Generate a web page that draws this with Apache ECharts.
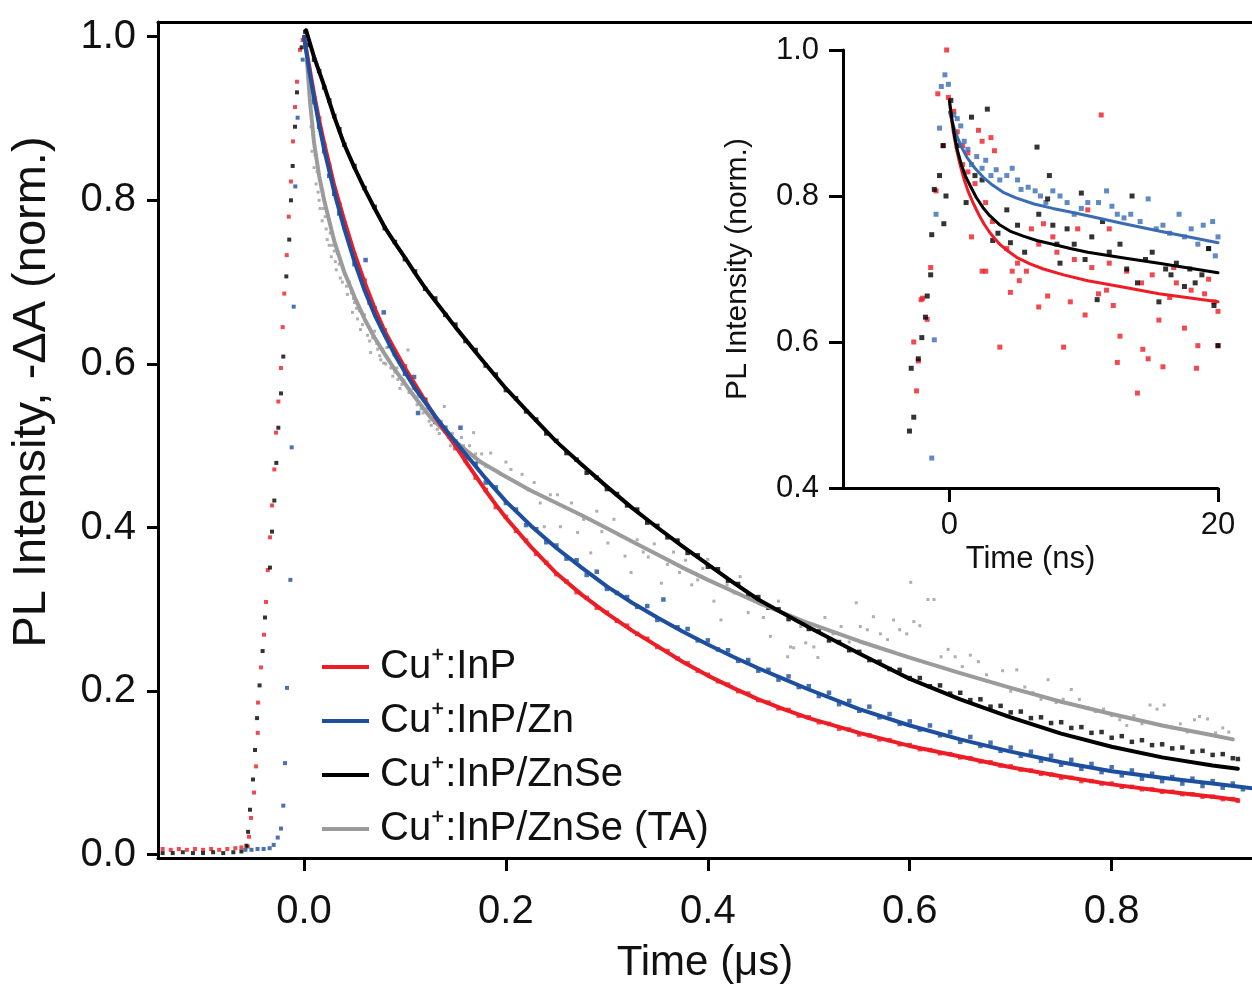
<!DOCTYPE html>
<html>
<head>
<meta charset="utf-8">
<script src="https://cdn.jsdelivr.net/npm/echarts@6/dist/echarts.min.js"></script>
<style>
  html, body { margin: 0; padding: 0; background: #fff; }
  #chart { width: 1252px; height: 986px; }
</style>
</head>
<body>
<div id="chart"></div>
<script>
const FONT = "'Liberation Sans', Arial, sans-serif"

const names = ['Cu⁺:InP', 'Cu⁺:InP/Zn', 'Cu⁺:InP/ZnSe', 'Cu⁺:InP/ZnSe (TA)']
const colors = ['#ee1c24', '#1d4f9e', '#000000', '#9b9b9b']
const insetBlue = '#3a6cb4'

const tickX = [0, 0.2, 0.4, 0.6, 0.8]
const tickY = [0, 0.2, 0.4, 0.6, 0.8, 1.0]
const insetTickX = [0, 20]
const insetTickY = [0.4, 0.6, 0.8, 1.0]

// main panel, time in us -- rise + baseline
const riseRed = [[-0.14, 0.007], [-0.132, 0.006], [-0.124, 0.007], [-0.116, 0.006], [-0.108, 0.007], [-0.1, 0.006], [-0.092, 0.007], [-0.084, 0.006], [-0.076, 0.007], [-0.068, 0.008], [-0.062, 0.009], [-0.0557, 0.01], [-0.0545, 0.022], [-0.0525, 0.045], [-0.0495, 0.076], [-0.0475, 0.108], [-0.0458, 0.149], [-0.0455, 0.186], [-0.0426, 0.229], [-0.0396, 0.269], [-0.0376, 0.309], [-0.0359, 0.348], [-0.0337, 0.388], [-0.0317, 0.427], [-0.0294, 0.471], [-0.0277, 0.516], [-0.0254, 0.554], [-0.0228, 0.595], [-0.0211, 0.645], [-0.0195, 0.686], [-0.0171, 0.733], [-0.0151, 0.78], [-0.0129, 0.823], [-0.0109, 0.872], [-0.0089, 0.914], [-0.0069, 0.945], [-0.004, 0.984], [-0.0013, 0.996]]
const riseBlack = [[-0.14, 0.002], [-0.13, 0.002], [-0.12, 0.003], [-0.11, 0.002], [-0.1, 0.002], [-0.09, 0.003], [-0.08, 0.002], [-0.07, 0.003], [-0.062, 0.004], [-0.057, 0.011], [-0.0554, 0.028], [-0.0535, 0.055], [-0.0505, 0.092], [-0.0485, 0.128], [-0.0465, 0.167], [-0.044, 0.207], [-0.041, 0.249], [-0.0386, 0.29], [-0.0337, 0.351], [-0.0317, 0.395], [-0.0294, 0.433], [-0.0274, 0.479], [-0.0254, 0.522], [-0.0228, 0.564], [-0.0205, 0.609], [-0.0175, 0.707], [-0.0146, 0.752], [-0.0129, 0.8], [-0.0112, 0.842], [-0.0089, 0.89], [-0.0069, 0.932], [-0.0023, 0.987], [0.001, 1.006]]
const riseBlue = [[-0.058, 0.006], [-0.052, 0.006], [-0.046, 0.007], [-0.04, 0.007], [-0.034, 0.008], [-0.03, 0.012], [-0.026, 0.021], [-0.0228, 0.032], [-0.0205, 0.06], [-0.0188, 0.112], [-0.0168, 0.204], [-0.0135, 0.336], [-0.0122, 0.498], [-0.0102, 0.67], [-0.0086, 0.817], [-0.0063, 0.901], [-0.0013, 0.972]]

// main panel -- decay data
const decayRed = [[0.005, 0.96], [0.01, 0.925], [0.015, 0.9], [0.02, 0.868], [0.025, 0.842], [0.03, 0.812], [0.035, 0.795], [0.04, 0.772], [0.05, 0.733], [0.06, 0.702], [0.07, 0.665], [0.08, 0.641], [0.09, 0.615], [0.1, 0.597], [0.11, 0.572], [0.12, 0.556], [0.13, 0.532], [0.14, 0.518], [0.15, 0.497], [0.16, 0.482], [0.17, 0.461], [0.18, 0.446], [0.19, 0.425], [0.2, 0.413], [0.21, 0.396], [0.22, 0.384], [0.23, 0.368], [0.24, 0.357], [0.25, 0.343], [0.26, 0.334], [0.27, 0.321], [0.28, 0.314], [0.29, 0.302], [0.3, 0.296], [0.31, 0.286], [0.32, 0.28], [0.33, 0.27], [0.34, 0.264], [0.35, 0.254], [0.36, 0.249], [0.37, 0.24], [0.38, 0.234], [0.39, 0.225], [0.4, 0.22], [0.41, 0.212], [0.42, 0.208], [0.43, 0.2], [0.44, 0.197], [0.45, 0.189], [0.46, 0.186], [0.47, 0.179], [0.48, 0.177], [0.49, 0.17], [0.5, 0.168], [0.51, 0.162], [0.52, 0.16], [0.53, 0.154], [0.54, 0.153], [0.55, 0.147], [0.56, 0.146], [0.57, 0.141], [0.58, 0.14], [0.59, 0.135], [0.6, 0.134], [0.61, 0.129], [0.62, 0.128], [0.63, 0.124], [0.64, 0.123], [0.65, 0.119], [0.66, 0.118], [0.67, 0.114], [0.68, 0.113], [0.69, 0.109], [0.7, 0.108], [0.71, 0.104], [0.72, 0.103], [0.73, 0.099], [0.74, 0.098], [0.75, 0.094], [0.76, 0.094], [0.77, 0.09], [0.78, 0.09], [0.79, 0.087], [0.8, 0.087], [0.81, 0.083], [0.82, 0.083], [0.83, 0.08], [0.84, 0.08], [0.85, 0.077], [0.86, 0.077], [0.87, 0.074], [0.88, 0.074], [0.89, 0.071], [0.9, 0.071], [0.91, 0.068], [0.92, 0.068], [0.925, 0.066]]
const decayBlue = [[0.005, 0.955], [0.01, 0.92], [0.015, 0.89], [0.02, 0.86], [0.025, 0.83], [0.03, 0.808], [0.035, 0.784], [0.04, 0.768], [0.05, 0.722], [0.061, 0.727], [0.065, 0.675], [0.07, 0.668], [0.079, 0.663], [0.085, 0.622], [0.09, 0.612], [0.1, 0.588], [0.109, 0.584], [0.113, 0.54], [0.12, 0.556], [0.13, 0.529], [0.14, 0.522], [0.15, 0.505], [0.155, 0.522], [0.16, 0.487], [0.17, 0.478], [0.18, 0.455], [0.19, 0.449], [0.2, 0.43], [0.21, 0.422], [0.22, 0.403], [0.23, 0.398], [0.24, 0.382], [0.25, 0.378], [0.26, 0.362], [0.27, 0.36], [0.28, 0.342], [0.29, 0.346], [0.3, 0.325], [0.31, 0.32], [0.32, 0.315], [0.33, 0.303], [0.34, 0.304], [0.35, 0.287], [0.356, 0.312], [0.37, 0.278], [0.38, 0.276], [0.39, 0.262], [0.4, 0.262], [0.41, 0.251], [0.42, 0.25], [0.43, 0.237], [0.44, 0.238], [0.45, 0.225], [0.46, 0.226], [0.47, 0.214], [0.48, 0.218], [0.49, 0.205], [0.5, 0.206], [0.51, 0.194], [0.52, 0.198], [0.53, 0.184], [0.54, 0.188], [0.55, 0.176], [0.56, 0.181], [0.57, 0.168], [0.58, 0.172], [0.59, 0.16], [0.6, 0.163], [0.61, 0.153], [0.62, 0.158], [0.63, 0.146], [0.64, 0.15], [0.65, 0.138], [0.66, 0.144], [0.67, 0.133], [0.68, 0.137], [0.69, 0.127], [0.7, 0.131], [0.71, 0.121], [0.72, 0.126], [0.73, 0.115], [0.74, 0.121], [0.75, 0.11], [0.76, 0.116], [0.77, 0.105], [0.78, 0.111], [0.79, 0.101], [0.8, 0.107], [0.81, 0.097], [0.82, 0.103], [0.83, 0.093], [0.84, 0.099], [0.85, 0.09], [0.86, 0.095], [0.87, 0.087], [0.88, 0.093], [0.89, 0.084], [0.9, 0.09], [0.91, 0.082], [0.92, 0.087], [0.93, 0.08], [0.94, 0.084]]
const decayBlack = [[0.005, 0.99], [0.01, 0.972], [0.015, 0.958], [0.02, 0.938], [0.025, 0.922], [0.03, 0.903], [0.035, 0.887], [0.04, 0.868], [0.05, 0.842], [0.06, 0.815], [0.07, 0.792], [0.08, 0.766], [0.09, 0.749], [0.1, 0.728], [0.11, 0.713], [0.12, 0.692], [0.13, 0.68], [0.14, 0.66], [0.15, 0.648], [0.16, 0.628], [0.17, 0.617], [0.18, 0.598], [0.19, 0.587], [0.2, 0.568], [0.21, 0.558], [0.22, 0.542], [0.23, 0.532], [0.24, 0.515], [0.25, 0.506], [0.26, 0.491], [0.27, 0.483], [0.28, 0.467], [0.29, 0.461], [0.3, 0.447], [0.31, 0.441], [0.32, 0.427], [0.33, 0.422], [0.34, 0.406], [0.35, 0.402], [0.36, 0.388], [0.37, 0.384], [0.38, 0.369], [0.39, 0.366], [0.4, 0.352], [0.41, 0.349], [0.42, 0.335], [0.43, 0.331], [0.44, 0.318], [0.45, 0.315], [0.46, 0.302], [0.47, 0.3], [0.48, 0.288], [0.49, 0.286], [0.5, 0.276], [0.51, 0.273], [0.52, 0.262], [0.53, 0.26], [0.54, 0.25], [0.55, 0.248], [0.56, 0.238], [0.57, 0.236], [0.58, 0.227], [0.59, 0.226], [0.6, 0.216], [0.61, 0.216], [0.62, 0.206], [0.63, 0.207], [0.64, 0.197], [0.65, 0.198], [0.66, 0.189], [0.67, 0.19], [0.68, 0.181], [0.69, 0.182], [0.7, 0.174], [0.71, 0.175], [0.72, 0.167], [0.73, 0.168], [0.74, 0.161], [0.75, 0.162], [0.76, 0.155], [0.77, 0.156], [0.78, 0.149], [0.79, 0.15], [0.8, 0.143], [0.81, 0.145], [0.82, 0.138], [0.83, 0.14], [0.84, 0.134], [0.85, 0.135], [0.86, 0.13], [0.87, 0.131], [0.88, 0.126], [0.89, 0.127], [0.9, 0.122], [0.91, 0.123], [0.92, 0.118], [0.925, 0.117]]
const decayGray = [[0.002, 1.005], [0.004, 0.96], [0.006, 0.93], [0.007, 0.89], [0.008, 0.86], [0.009, 0.88], [0.01, 0.84], [0.011, 0.855], [0.012, 0.82], [0.013, 0.835], [0.014, 0.81], [0.015, 0.8], [0.016, 0.79], [0.017, 0.815], [0.018, 0.775], [0.019, 0.79], [0.02, 0.8], [0.021, 0.78], [0.022, 0.765], [0.023, 0.752], [0.025, 0.745], [0.026, 0.76], [0.027, 0.731], [0.028, 0.745], [0.03, 0.738], [0.031, 0.725], [0.032, 0.715], [0.033, 0.735], [0.035, 0.722], [0.036, 0.705], [0.038, 0.7], [0.039, 0.715], [0.04, 0.71], [0.042, 0.695], [0.043, 0.685], [0.045, 0.7], [0.047, 0.687], [0.048, 0.663], [0.049, 0.68], [0.05, 0.675], [0.052, 0.668], [0.053, 0.655], [0.055, 0.665], [0.056, 0.642], [0.058, 0.648], [0.06, 0.66], [0.062, 0.65], [0.063, 0.635], [0.065, 0.628], [0.066, 0.614], [0.068, 0.632], [0.07, 0.64], [0.072, 0.625], [0.073, 0.618], [0.075, 0.61], [0.076, 0.605], [0.078, 0.618], [0.079, 0.601], [0.081, 0.6], [0.082, 0.62], [0.084, 0.605], [0.086, 0.595], [0.088, 0.585], [0.09, 0.59], [0.092, 0.595], [0.093, 0.581], [0.095, 0.57], [0.097, 0.575], [0.099, 0.58], [0.1, 0.59], [0.103, 0.617], [0.104, 0.565], [0.106, 0.565], [0.108, 0.57], [0.11, 0.56], [0.112, 0.55], [0.113, 0.56], [0.116, 0.545], [0.118, 0.54], [0.12, 0.555], [0.122, 0.545], [0.124, 0.53], [0.126, 0.525], [0.128, 0.54], [0.13, 0.53], [0.132, 0.52], [0.134, 0.515], [0.136, 0.53], [0.138, 0.52], [0.139, 0.548], [0.143, 0.51], [0.145, 0.5], [0.147, 0.515], [0.149, 0.505], [0.151, 0.5], [0.154, 0.495], [0.156, 0.51], [0.158, 0.5], [0.16, 0.495], [0.162, 0.488], [0.164, 0.5], [0.166, 0.482], [0.168, 0.516], [0.17, 0.49], [0.172, 0.48], [0.176, 0.49], [0.18, 0.475], [0.185, 0.491], [0.19, 0.47], [0.195, 0.465], [0.2, 0.48], [0.205, 0.471], [0.21, 0.455], [0.216, 0.465], [0.222, 0.446], [0.228, 0.455], [0.234, 0.43], [0.238, 0.401], [0.244, 0.44], [0.251, 0.44], [0.254, 0.401], [0.258, 0.425], [0.265, 0.43], [0.271, 0.394], [0.277, 0.41], [0.284, 0.369], [0.29, 0.42], [0.295, 0.395], [0.301, 0.381], [0.307, 0.41], [0.313, 0.39], [0.318, 0.365], [0.324, 0.345], [0.33, 0.385], [0.336, 0.37], [0.341, 0.364], [0.347, 0.38], [0.354, 0.332], [0.36, 0.355], [0.366, 0.37], [0.372, 0.345], [0.378, 0.36], [0.384, 0.33], [0.39, 0.336], [0.395, 0.35], [0.4, 0.361], [0.406, 0.31], [0.413, 0.287], [0.419, 0.33], [0.426, 0.32], [0.432, 0.34], [0.44, 0.296], [0.447, 0.315], [0.455, 0.29], [0.462, 0.267], [0.47, 0.31], [0.479, 0.242], [0.482, 0.254], [0.485, 0.253], [0.492, 0.279], [0.497, 0.259], [0.505, 0.254], [0.509, 0.241], [0.516, 0.29], [0.524, 0.27], [0.532, 0.279], [0.54, 0.26], [0.547, 0.308], [0.551, 0.279], [0.558, 0.275], [0.564, 0.291], [0.571, 0.27], [0.578, 0.263], [0.584, 0.287], [0.59, 0.275], [0.597, 0.27], [0.601, 0.333], [0.604, 0.285], [0.61, 0.28], [0.618, 0.312], [0.624, 0.312], [0.631, 0.242], [0.638, 0.251], [0.645, 0.242], [0.652, 0.23], [0.66, 0.244], [0.668, 0.236], [0.676, 0.22], [0.684, 0.21], [0.692, 0.225], [0.7, 0.2], [0.706, 0.226], [0.714, 0.205], [0.722, 0.198], [0.73, 0.19], [0.737, 0.214], [0.745, 0.186], [0.752, 0.19], [0.76, 0.202], [0.768, 0.19], [0.776, 0.18], [0.784, 0.175], [0.792, 0.178], [0.8, 0.17], [0.808, 0.165], [0.815, 0.158], [0.822, 0.17], [0.83, 0.16], [0.838, 0.183], [0.845, 0.178], [0.852, 0.183], [0.86, 0.155], [0.868, 0.16], [0.875, 0.15], [0.882, 0.165], [0.887, 0.169], [0.895, 0.166], [0.903, 0.149], [0.91, 0.155], [0.916, 0.15]]

// main panel -- fitted curves
const fitRed = [[0, 1.0], [0.005, 0.965], [0.01, 0.93], [0.015, 0.898], [0.02, 0.87], [0.03, 0.818], [0.04, 0.775], [0.05, 0.735], [0.06, 0.7], [0.07, 0.668], [0.08, 0.64], [0.09, 0.617], [0.1, 0.595], [0.11, 0.575], [0.12, 0.555], [0.13, 0.535], [0.14, 0.517], [0.15, 0.5], [0.16, 0.481], [0.17, 0.463], [0.18, 0.445], [0.19, 0.428], [0.2, 0.412], [0.225, 0.376], [0.25, 0.344], [0.275, 0.318], [0.3, 0.295], [0.325, 0.274], [0.35, 0.255], [0.375, 0.236], [0.4, 0.219], [0.425, 0.204], [0.45, 0.19], [0.475, 0.178], [0.5, 0.167], [0.55, 0.149], [0.6, 0.133], [0.65, 0.12], [0.7, 0.107], [0.75, 0.096], [0.8, 0.086], [0.85, 0.078], [0.9, 0.071], [0.925, 0.067]]
const fitBlue = [[0, 1.0], [0.005, 0.96], [0.01, 0.925], [0.015, 0.892], [0.02, 0.862], [0.03, 0.81], [0.04, 0.765], [0.05, 0.725], [0.06, 0.69], [0.07, 0.66], [0.08, 0.635], [0.09, 0.611], [0.1, 0.59], [0.11, 0.57], [0.12, 0.553], [0.13, 0.536], [0.14, 0.52], [0.15, 0.505], [0.16, 0.49], [0.17, 0.475], [0.18, 0.46], [0.19, 0.446], [0.2, 0.432], [0.225, 0.402], [0.25, 0.375], [0.275, 0.351], [0.3, 0.328], [0.325, 0.308], [0.35, 0.29], [0.375, 0.273], [0.4, 0.257], [0.425, 0.242], [0.45, 0.228], [0.475, 0.215], [0.5, 0.202], [0.55, 0.178], [0.6, 0.158], [0.65, 0.141], [0.7, 0.126], [0.75, 0.113], [0.8, 0.102], [0.85, 0.094], [0.9, 0.087], [0.94, 0.081]]
const fitBlack = [[0.002, 1.008], [0.01, 0.975], [0.02, 0.94], [0.03, 0.902], [0.04, 0.868], [0.05, 0.84], [0.06, 0.814], [0.07, 0.79], [0.08, 0.767], [0.09, 0.748], [0.1, 0.73], [0.11, 0.711], [0.12, 0.693], [0.13, 0.677], [0.14, 0.661], [0.15, 0.645], [0.175, 0.607], [0.2, 0.57], [0.225, 0.537], [0.25, 0.505], [0.275, 0.477], [0.3, 0.45], [0.325, 0.424], [0.35, 0.4], [0.375, 0.377], [0.4, 0.355], [0.425, 0.333], [0.45, 0.312], [0.475, 0.295], [0.5, 0.278], [0.55, 0.246], [0.6, 0.215], [0.65, 0.19], [0.7, 0.168], [0.75, 0.148], [0.8, 0.132], [0.85, 0.119], [0.9, 0.109], [0.925, 0.105]]
const fitGray = [[0.003, 0.97], [0.006, 0.92], [0.01, 0.87], [0.015, 0.83], [0.02, 0.8], [0.03, 0.75], [0.04, 0.712], [0.05, 0.682], [0.06, 0.655], [0.07, 0.632], [0.08, 0.612], [0.09, 0.593], [0.1, 0.576], [0.11, 0.559], [0.125, 0.535], [0.15, 0.505], [0.175, 0.48], [0.2, 0.462], [0.225, 0.445], [0.25, 0.43], [0.275, 0.415], [0.3, 0.399], [0.325, 0.383], [0.35, 0.367], [0.375, 0.351], [0.4, 0.336], [0.45, 0.308], [0.5, 0.283], [0.55, 0.261], [0.6, 0.241], [0.65, 0.222], [0.7, 0.204], [0.75, 0.187], [0.8, 0.172], [0.85, 0.158], [0.9, 0.146], [0.92, 0.141]]

// inset, time in ns
const insetRed = [[-2.66, 0.6], [-2.45, 0.533], [-2.32, 0.574], [-2.11, 0.658], [-2.0, 0.66], [-1.66, 0.631], [-1.4, 0.702], [-1.0, 0.807], [-0.87, 0.94], [-0.47, 0.869], [-0.21, 1.0], [-0.08, 0.935], [0.32, 0.916], [0.58, 0.888], [0.98, 0.869], [0.98, 0.843], [1.37, 0.859], [1.37, 0.833], [1.64, 0.744], [1.9, 0.817], [2.16, 0.89], [2.43, 0.875], [2.43, 0.697], [2.69, 0.791], [2.7, 0.697], [3.09, 0.88], [3.2, 0.765], [3.35, 0.862], [3.75, 0.593], [4.27, 0.728], [4.54, 0.668], [4.67, 0.697], [5.07, 0.708], [5.2, 0.684], [5.73, 0.697], [6.1, 0.755], [6.65, 0.648], [6.65, 0.734], [7.0, 0.762], [7.31, 0.663], [7.7, 0.744], [8.0, 0.723], [8.5, 0.593], [9.0, 0.655], [9.3, 0.713], [9.55, 0.755], [10.1, 0.637], [10.3, 0.781], [10.6, 0.702], [11.1, 0.666], [11.3, 0.911], [11.7, 0.671], [11.9, 0.708], [11.9, 0.755], [12.2, 0.65], [12.5, 0.572], [12.7, 0.608], [13.2, 0.697], [14.0, 0.53], [14.3, 0.681], [14.4, 0.59], [14.8, 0.577], [15.1, 0.692], [15.6, 0.63], [15.9, 0.566], [16.4, 0.661], [16.7, 0.702], [16.9, 0.681], [17.5, 0.619], [18.0, 0.671], [18.4, 0.564], [18.5, 0.595], [19.0, 0.666], [19.3, 0.686], [19.7, 0.655], [20.0, 0.642], [20.0, 0.595]]
const insetBlueData = [[-1.32, 0.441], [-1.13, 0.603], [-1.0, 0.775], [-0.74, 0.893], [-0.61, 0.95], [-0.34, 0.966], [-0.08, 0.953], [0.32, 0.911], [0.58, 0.906], [0.84, 0.896], [1.1, 0.875], [1.37, 0.864], [1.64, 0.843], [2.03, 0.854], [2.43, 0.838], [2.7, 0.849], [3.09, 0.828], [3.48, 0.836], [3.75, 0.822], [4.27, 0.828], [4.67, 0.838], [5.07, 0.822], [5.33, 0.809], [5.86, 0.812], [6.38, 0.807], [6.78, 0.8], [7.18, 0.791], [7.7, 0.807], [8.23, 0.8], [8.76, 0.791], [9.29, 0.775], [9.82, 0.783], [10.3, 0.791], [11.1, 0.791], [11.7, 0.807], [12.1, 0.786], [12.5, 0.775], [13.0, 0.77], [13.5, 0.775], [14.2, 0.765], [14.8, 0.796], [15.4, 0.755], [15.9, 0.76], [16.4, 0.749], [17.1, 0.775], [17.5, 0.744], [18.0, 0.755], [18.5, 0.734], [18.9, 0.76], [19.3, 0.728], [19.6, 0.765], [19.8, 0.718], [20.0, 0.744]]
const insetBlack = [[-2.98, 0.478], [-2.85, 0.564], [-2.66, 0.497], [-2.32, 0.577], [-2.06, 0.606], [-1.79, 0.634], [-1.66, 0.663], [-1.4, 0.692], [-1.32, 0.747], [-1.13, 0.809], [-0.74, 0.828], [-0.47, 0.869], [-0.42, 0.762], [-0.26, 0.8], [0.1, 0.931], [0.58, 0.869], [1.24, 0.791], [1.64, 0.908], [1.9, 0.828], [2.43, 0.822], [2.82, 0.919], [3.22, 0.739], [3.61, 0.749], [4.27, 0.781], [4.54, 0.736], [5.07, 0.76], [5.6, 0.723], [6.52, 0.867], [6.65, 0.775], [7.31, 0.796], [7.44, 0.828], [7.7, 0.76], [8.0, 0.734], [8.23, 0.708], [8.76, 0.755], [9.29, 0.734], [9.82, 0.804], [10.1, 0.713], [10.6, 0.744], [11.0, 0.658], [11.4, 0.765], [11.9, 0.723], [12.7, 0.734], [13.2, 0.7], [13.6, 0.8], [14.0, 0.681], [14.6, 0.713], [15.1, 0.723], [15.6, 0.655], [16.1, 0.7], [16.5, 0.692], [16.9, 0.708], [17.5, 0.676], [17.9, 0.7], [18.3, 0.681], [18.8, 0.692], [19.3, 0.728], [19.7, 0.65], [20.0, 0.595]]
const insetFitRed = [[0, 0.93], [0.15, 0.905], [0.3, 0.886], [0.5, 0.866], [0.8, 0.842], [1.1, 0.822], [1.4, 0.806], [1.8, 0.789], [2.2, 0.774], [2.6, 0.761], [3.0, 0.75], [3.4, 0.741], [3.8, 0.733], [4.4, 0.724], [5.0, 0.716], [6.0, 0.707], [7.0, 0.7], [8.5, 0.692], [10.3, 0.684], [13.0, 0.675], [15.6, 0.666], [20.0, 0.655]]
const insetFitBlue = [[0, 0.915], [0.3, 0.896], [0.6, 0.88], [0.9, 0.867], [1.3, 0.853], [1.9, 0.838], [2.5, 0.826], [3.2, 0.815], [4.0, 0.805], [5.0, 0.797], [6.3, 0.789], [7.7, 0.783], [9.0, 0.778], [10.3, 0.773], [13.0, 0.762], [15.6, 0.752], [20.0, 0.736]]
const insetFitBlack = [[0, 0.93], [0.2, 0.903], [0.4, 0.88], [0.6, 0.862], [0.9, 0.842], [1.2, 0.827], [1.6, 0.812], [2.0, 0.798], [2.5, 0.784], [3.0, 0.773], [3.7, 0.761], [4.5, 0.752], [5.5, 0.745], [6.5, 0.739], [7.7, 0.734], [9.0, 0.728], [10.3, 0.723], [13.0, 0.715], [15.6, 0.708], [20.0, 0.695]]

const chart = echarts.init(document.getElementById('chart'))

function axisBase(extra) {
  return Object.assign({
    type: 'value',
    splitLine: { show: false },
    axisLine: { show: true, onZero: false, lineStyle: { color: '#000', width: 3 } },
    axisTick: { show: true, inside: false, length: 11, lineStyle: { color: '#000', width: 3 } },
    axisLabel: { color: '#111', fontFamily: FONT },
    nameTextStyle: { color: '#111', fontFamily: FONT }
  }, extra)
}

function dots(name, data, color, size, xi, yi) {
  return {
    name: name,
    type: 'scatter',
    xAxisIndex: xi,
    yAxisIndex: yi,
    symbol: 'rect',
    symbolSize: size,
    itemStyle: { color: color },
    data: data,
    z: 2,
    silent: true
  }
}

function fit(name, data, color, width, xi, yi) {
  return {
    name: name,
    type: 'line',
    xAxisIndex: xi,
    yAxisIndex: yi,
    data: data,
    smooth: false,
    showSymbol: false,
    lineStyle: { color: color, width: width, cap: 'round', join: 'round' },
    itemStyle: { color: color },
    z: 3,
    silent: true
  }
}

const option = {
  backgroundColor: '#fff',
  animation: false,
  grid: [
    { left: 158, top: 22, width: 1094, height: 836, outerBoundsMode: 'none' },
    { left: 843, top: 50, width: 375, height: 438, outerBoundsMode: 'none' }
  ],
  xAxis: [
    axisBase({
      gridIndex: 0, min: -0.1446, max: 0.939,
      name: 'Time (μs)', nameLocation: 'middle', nameGap: 84,
      nameTextStyle: { color: '#111', fontFamily: FONT, fontSize: 42 },
      axisTick: { show: true, length: 13, customValues: tickX, lineStyle: { color: '#000', width: 3 } },
      axisLabel: { color: '#111', fontFamily: FONT, fontSize: 40, margin: 34, customValues: tickX, formatter: v => v.toFixed(1) }
    }),
    axisBase({
      gridIndex: 0, position: 'top', min: -0.1446, max: 0.939,
      axisTick: { show: false }, axisLabel: { show: false }
    }),
    axisBase({
      gridIndex: 1, min: -7.93, max: 20,
      name: 'Time (ns)', nameLocation: 'middle', nameGap: 56,
      nameTextStyle: { color: '#111', fontFamily: FONT, fontSize: 31 },
      axisTick: { show: true, length: 14, customValues: insetTickX, lineStyle: { color: '#000', width: 3 } },
      axisLabel: { color: '#111', fontFamily: FONT, fontSize: 31, margin: 22, customValues: insetTickX, formatter: v => String(v) }
    })
  ],
  yAxis: [
    axisBase({
      gridIndex: 0, min: -0.004, max: 1.018,
      name: 'PL Intensity, -ΔA (norm.)', nameLocation: 'middle', nameGap: 102,
      nameTextStyle: { color: '#111', fontFamily: FONT, fontSize: 47, padding: [0, 0, 0, 96] },
      axisTick: { show: true, length: 11, customValues: tickY, lineStyle: { color: '#000', width: 3 } },
      axisLabel: { color: '#111', fontFamily: FONT, fontSize: 40, margin: 22, customValues: tickY, formatter: v => v.toFixed(1) }
    }),
    axisBase({
      gridIndex: 1, min: 0.4, max: 1.0,
      name: 'PL Intensity (norm.)', nameLocation: 'middle', nameGap: 90,
      nameTextStyle: { color: '#111', fontFamily: FONT, fontSize: 30 },
      axisTick: { show: true, length: 14, customValues: insetTickY, lineStyle: { color: '#000', width: 3 } },
      axisLabel: { color: '#111', fontFamily: FONT, fontSize: 31, margin: 24, customValues: insetTickY, formatter: v => v.toFixed(1) }
    })
  ],
  legend: {
    data: names,
    orient: 'vertical',
    left: 317,
    top: 642,
    icon: 'rect',
    itemWidth: 47,
    itemHeight: 4,
    itemGap: 14,
    selectedMode: false,
    textStyle: { color: '#111', fontFamily: FONT, fontSize: 40, lineHeight: 40, padding: [0, 0, 0, 6] }
  },
  series: [
    dots('TA data', decayGray, colors[3], 3, 0, 0),
    dots('InP rise', riseRed, colors[0], 4, 0, 0),
    dots('InP data', decayRed, colors[0], 4.5, 0, 0),
    dots('Zn rise', riseBlue, colors[1], 4, 0, 0),
    dots('Zn data', decayBlue, colors[1], 4.5, 0, 0),
    dots('ZnSe rise', riseBlack, colors[2], 4, 0, 0),
    dots('ZnSe data', decayBlack, colors[2], 4.5, 0, 0),
    fit(names[3], fitGray, colors[3], 4, 0, 0),
    fit(names[0], fitRed, colors[0], 4, 0, 0),
    fit(names[1], fitBlue, colors[1], 4, 0, 0),
    fit(names[2], fitBlack, colors[2], 4, 0, 0),
    dots('inset red', insetRed, colors[0], 5, 2, 1),
    dots('inset blue', insetBlueData, insetBlue, 5, 2, 1),
    dots('inset black', insetBlack, colors[2], 5, 2, 1),
    fit('inset fit blue', insetFitBlue, insetBlue, 3, 2, 1),
    fit('inset fit red', insetFitRed, colors[0], 3, 2, 1),
    fit('inset fit black', insetFitBlack, colors[2], 3, 2, 1)
  ]
}

chart.setOption(option)
</script>
</body>
</html>
